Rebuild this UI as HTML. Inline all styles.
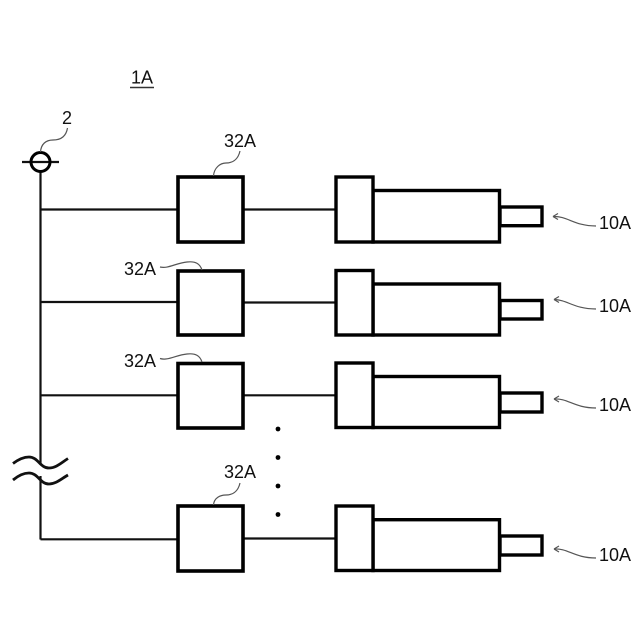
<!DOCTYPE html>
<html>
<head>
<meta charset="utf-8">
<style>
html,body{margin:0;padding:0;background:#fff;}
svg{display:block;}
text{font-family:"Liberation Sans",sans-serif;font-size:18px;fill:#111;}
</style>
</head>
<body>
<svg width="640" height="640" viewBox="0 0 640 640" xmlns="http://www.w3.org/2000/svg">
<rect width="640" height="640" fill="#fff"/>

<!-- Bus -->
<g stroke="#111" stroke-width="2.2" fill="none">
  <path d="M40.5 171V465M40.5 476V539.5"/>
  <path d="M40.5 209.5H178M40.5 302H178M40.5 395.3H178M40.500 539.300H178"/>
  <path d="M243 209.5H336M243 302.5H336M243 395.3H336M243 538.5H336"/>
  <path d="M22 162H59"/>
</g>
<circle cx="40.5" cy="162" r="9.5" fill="none" stroke="#000" stroke-width="3"/>

<!-- Break waves -->
<g stroke="#111" stroke-width="2.8" fill="none">
  <path d="M13 463.5C19 459 24 457 29 457C38 457 40 468 49 468C56 468 61 463 68 458.5"/>
  <path d="M13 480C19 475 24 473 29 473C38 473 40 484 49 484C56 484 61 479 68 475"/>
</g>

<!-- 32A boxes -->
<g stroke="#000" stroke-width="3.6" fill="#fff">
  <rect x="178" y="177" width="65" height="65"/>
  <rect x="178" y="271" width="65" height="64"/>
  <rect x="178" y="363.5" width="65" height="64.5"/>
  <rect x="178" y="506" width="65" height="65"/>
</g>

<!-- Actuators -->
<g stroke="#000" stroke-width="3.4" fill="#fff">
  <rect x="500" y="207" width="42" height="18.7"/>
  <rect x="373" y="190.5" width="126.5" height="51.5"/>
  <rect x="336" y="177" width="37" height="65"/>

  <rect x="500" y="300.5" width="42" height="18.5"/>
  <rect x="373" y="284" width="126.5" height="51"/>
  <rect x="336" y="270.5" width="37" height="64.5"/>

  <rect x="500" y="393" width="42" height="19"/>
  <rect x="373" y="376.5" width="126.5" height="51"/>
  <rect x="336" y="363" width="37" height="64.5"/>

  <rect x="500" y="536" width="42" height="19"/>
  <rect x="373" y="519.7" width="126.5" height="50.8"/>
  <rect x="336" y="506" width="37" height="64.5"/>
</g>

<!-- Dots -->
<g fill="#000">
  <circle cx="278" cy="429" r="2.4"/>
  <circle cx="278" cy="457.5" r="2.4"/>
  <circle cx="278" cy="486" r="2.4"/>
  <circle cx="278" cy="514.5" r="2.4"/>
</g>

<!-- Leaders -->
<g stroke="#555" stroke-width="1.2" fill="none">
  <path d="M67.5 128C66 137 60 140 53 140C46 140 41 144 40.5 152"/>
  <path d="M240 151C238 160 232 163 226 163C220 163 214 168 213.5 176"/>
  <path d="M160 267C168 269 176 263 187 262C196 261 200 264 202 270"/>
  <path d="M160 358.5C168 361 176 355 187 354C196 353 200 356 202 362"/>
  <path d="M240 483C238 492 232 495 226 495C220 495 214 498 213.5 505"/>
  <path d="M553 216.5C568 216 574 226 596 226"/>
  <path d="M553 216.5L558 213.500M553 216.5L558 219.500"/>
  <path d="M554 299.500C568 300 574 309 596 309"/>
  <path d="M554 299.500L559 296.500M554 299.500L559 302.500"/>
  <path d="M554 399C568 398 574 408 596 408"/>
  <path d="M554 399L559 396M554 399L559 402"/>
  <path d="M554 549C568 548 574 558 596 558"/>
  <path d="M554 549L559 546M554 549L559 552"/>
</g>

<!-- Labels -->
<text x="131" y="83.500">1A</text>
<path d="M130 87.500H154" stroke="#333" stroke-width="1.4"/>
<text x="62" y="124">2</text>
<text x="224" y="147">32A</text>
<text x="124" y="275">32A</text>
<text x="124" y="367">32A</text>
<text x="224" y="478">32A</text>
<text x="599" y="229">10A</text>
<text x="599" y="312">10A</text>
<text x="599" y="411">10A</text>
<text x="599" y="561">10A</text>
</svg>
</body>
</html>
